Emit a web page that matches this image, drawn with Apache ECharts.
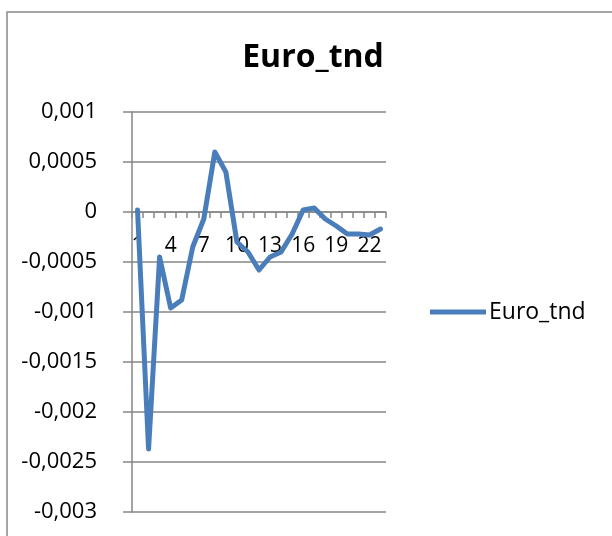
<!DOCTYPE html>
<html>
<head>
<meta charset="utf-8">
<script src="https://cdn.jsdelivr.net/npm/echarts@6/dist/echarts.min.js"></script>
<style>
  html, body { margin: 0; padding: 0; background: #fff; }
  #chart { width: 612px; height: 536px; }
</style>
</head>
<body>
<div id="chart"></div>
<script>
// Period index 1..23
const categories = ['1','2','3','4','5','6','7','8','9','10','11','12','13','14','15','16','17','18','19','20','21','22','23'];
// Euro_tnd trend values
const euroTnd = [0.00002, -0.00237, -0.00045, -0.00096, -0.00088, -0.00035, -0.00007, 0.0006, 0.0004, -0.0003,
                 -0.0004, -0.00058, -0.00045, -0.0004, -0.00022, 0.00002, 0.00004, -0.00007, -0.00014, -0.00022,
                 -0.00022, -0.00023, -0.00017];
const seriesName = 'Euro_tnd';
// Y axis range and step
const yMin = -0.003, yMax = 0.001, yStep = 0.0005;

const FONT = '"Open Sans", "Liberation Sans", Arial, sans-serif';
const GRID_GREY = '#868686';

// plot box
const GRID = { left: 132, right: 226, top: 112, bottom: 24 };
const plotHeight = 536 - GRID.top - GRID.bottom;
// the category axis sits on the zero line, like a crossing axis
const zeroOffset = -plotHeight * (0 - yMin) / (yMax - yMin);

const chart = echarts.init(document.getElementById('chart'), null, { renderer: 'canvas' });

chart.setOption({
  animation: false,
  backgroundColor: '#ffffff',
  textStyle: { fontFamily: FONT },
  title: {
    text: seriesName,
    left: 308,
    top: 37,
    textAlign: 'center',
    textStyle: { fontFamily: FONT, fontSize: 32, fontWeight: 'bold', color: '#000' }
  },
  legend: {
    data: [seriesName],
    left: 430,
    top: 300,
    padding: 0,
    icon: 'rect',
    itemWidth: 56,
    itemHeight: 5,
    itemGap: 10,
    textStyle: { fontFamily: FONT, fontSize: 23, color: '#000', lineHeight: 24, padding: [0, 0, 0, -2] }
  },
  grid: Object.assign({ containLabel: false, outerBoundsMode: 'none' }, GRID),
  xAxis: {
    type: 'category',
    data: categories,
    boundaryGap: true,
    offset: zeroOffset,
    axisLine: { onZero: false, lineStyle: { color: GRID_GREY, width: 1.5 } },
    axisTick: { show: true, interval: 0, length: 6, lineStyle: { color: GRID_GREY, width: 1.5 } },
    axisLabel: { interval: 2, margin: 24, fontSize: 21, color: '#000', fontFamily: FONT },
    splitLine: { show: false }
  },
  yAxis: {
    type: 'value',
    min: yMin,
    max: yMax,
    interval: yStep,
    axisLine: { show: true, lineStyle: { color: GRID_GREY, width: 1.5 } },
    axisTick: { show: true, length: 9, lineStyle: { color: GRID_GREY, width: 1.5 } },
    axisLabel: {
      margin: 35,
      fontSize: 22,
      color: '#000',
      fontFamily: FONT,
      formatter: v => String(Number(v.toPrecision(6))).replace('.', ',')
    },
    splitLine: { show: true, lineStyle: { color: GRID_GREY, width: 1.5 } }
  },
  series: [{
    name: seriesName,
    type: 'line',
    data: euroTnd,
    symbol: 'none',
    smooth: false,
    lineStyle: { color: '#4A7EBB', width: 5, cap: 'round', join: 'round' },
    itemStyle: { color: '#4A7EBB' }
  }],
  graphic: [{
    type: 'rect',
    shape: { x: 7, y: 12, width: 640, height: 560 },
    style: { fill: null, stroke: '#8a8a8a', lineWidth: 1.5 },
    silent: true,
    z: -1
  }]
});
</script>
</body>
</html>
